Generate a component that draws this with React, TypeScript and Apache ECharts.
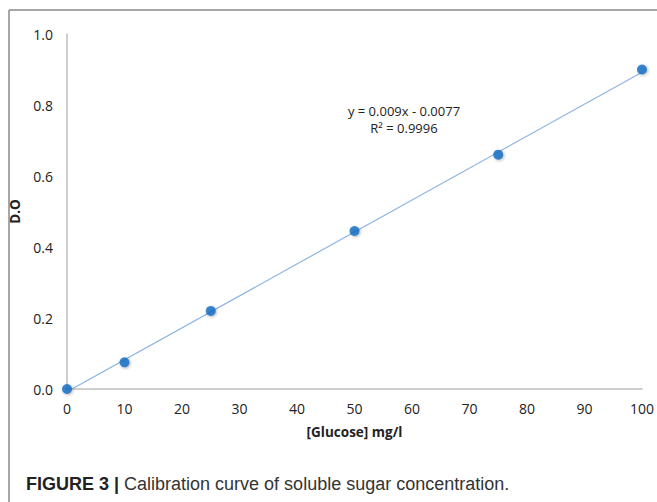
import React, { useEffect, useRef } from "react";
import * as echarts from "echarts";

const concentrations = [0, 10, 25, 50, 75, 100];
const absorbance = [0, 0.075, 0.22, 0.445, 0.66, 0.9];
const slope = 0.009;
const intercept = -0.0077;
const trendRange = [0, 100];
const equationText = "y = 0.009x - 0.0077";
const r2Text = "R² = 0.9996";
const captionBold = "FIGURE 3 |";
const captionText = "Calibration curve of soluble sugar concentration.";

export default function App() {
  const ref = useRef<HTMLDivElement>(null);
  useEffect(() => {
    if (!ref.current) return;
    const chart = echarts.init(ref.current, undefined, { renderer: "svg" });
    const points = concentrations.map((x, i) => [x, absorbance[i]]);
    const trend = trendRange.map((x) => [x, slope * x + intercept]);
    chart.setOption({
      animation: false,
      backgroundColor: "#ffffff",
      grid: { left: 67, right: 12, top: 34, bottom: 113 },
      xAxis: {
        type: "value",
        min: 0,
        max: 100,
        interval: 10,
        name: "[Glucose] mg/l",
        nameLocation: "middle",
        nameGap: 36,
        nameTextStyle: { fontFamily: "Open Sans", fontWeight: "bold", fontSize: 13.5, color: "#222" },
        axisLine: { lineStyle: { color: "#bfbfbf", width: 1.5 } },
        axisTick: { show: false },
        splitLine: { show: false },
        axisLabel: { fontFamily: "Open Sans", fontSize: 14, color: "#222", margin: 12 },
      },
      yAxis: {
        type: "value",
        min: 0,
        max: 1,
        interval: 0.2,
        name: "D.O",
        nameLocation: "middle",
        nameGap: 41,
        nameRotate: 90,
        nameTextStyle: { fontFamily: "Open Sans", fontWeight: "bold", fontSize: 13.5, color: "#222" },
        axisLine: { show: true, lineStyle: { color: "#bfbfbf", width: 1.5 } },
        axisTick: { show: false },
        splitLine: { show: false },
        axisLabel: {
          fontFamily: "Open Sans",
          fontSize: 14,
          color: "#222",
          margin: 14,
          formatter: (v: number) => v.toFixed(1),
        },
      },
      series: [
        {
          type: "line",
          data: trend,
          symbol: "none",
          lineStyle: { color: "#8db4e2", width: 1.2 },
          z: 1,
        },
        {
          type: "scatter",
          data: points,
          symbol: "circle",
          symbolSize: 10,
          clip: false,
          itemStyle: {
            color: "#0f6cc4",
            shadowBlur: 3,
            shadowColor: "rgba(0,0,0,0.35)",
            shadowOffsetX: 1,
            shadowOffsetY: 1,
          },
          z: 3,
        },
      ],
      graphic: [
        { type: "line", shape: { x1: 9, y1: 10, x2: 657, y2: 10 }, style: { stroke: "#8a8a8a", lineWidth: 1.5 } },
        { type: "line", shape: { x1: 9, y1: 10, x2: 9, y2: 502 }, style: { stroke: "#8a8a8a", lineWidth: 1.5 } },
        {
          type: "text",
          x: 404,
          y: 119,
          style: {
            text: equationText + "\n" + r2Text,
            align: "center",
            verticalAlign: "middle",
            fontFamily: "Open Sans",
            fontSize: 13,
            lineHeight: 17,
            fill: "#222",
          },
        },
        {
          type: "text",
          x: 26,
          y: 484,
          style: {
            text: "{b|" + captionBold + "} {r|" + captionText + "}",
            verticalAlign: "middle",
            rich: {
              b: { fontFamily: "Liberation Sans", fontWeight: "bold", fontSize: 18, fill: "#222" },
              r: { fontFamily: "Liberation Sans", fontSize: 18, fill: "#333" },
            },
            fontFamily: "Liberation Sans",
            fontSize: 18,
            fill: "#333",
          },
        },
      ],
    });
    return () => chart.dispose();
  }, []);
  return (
    <div
      ref={ref}
      style={{ position: "fixed", left: 0, top: 0, width: 657, height: 502 }}
    />
  );
}
